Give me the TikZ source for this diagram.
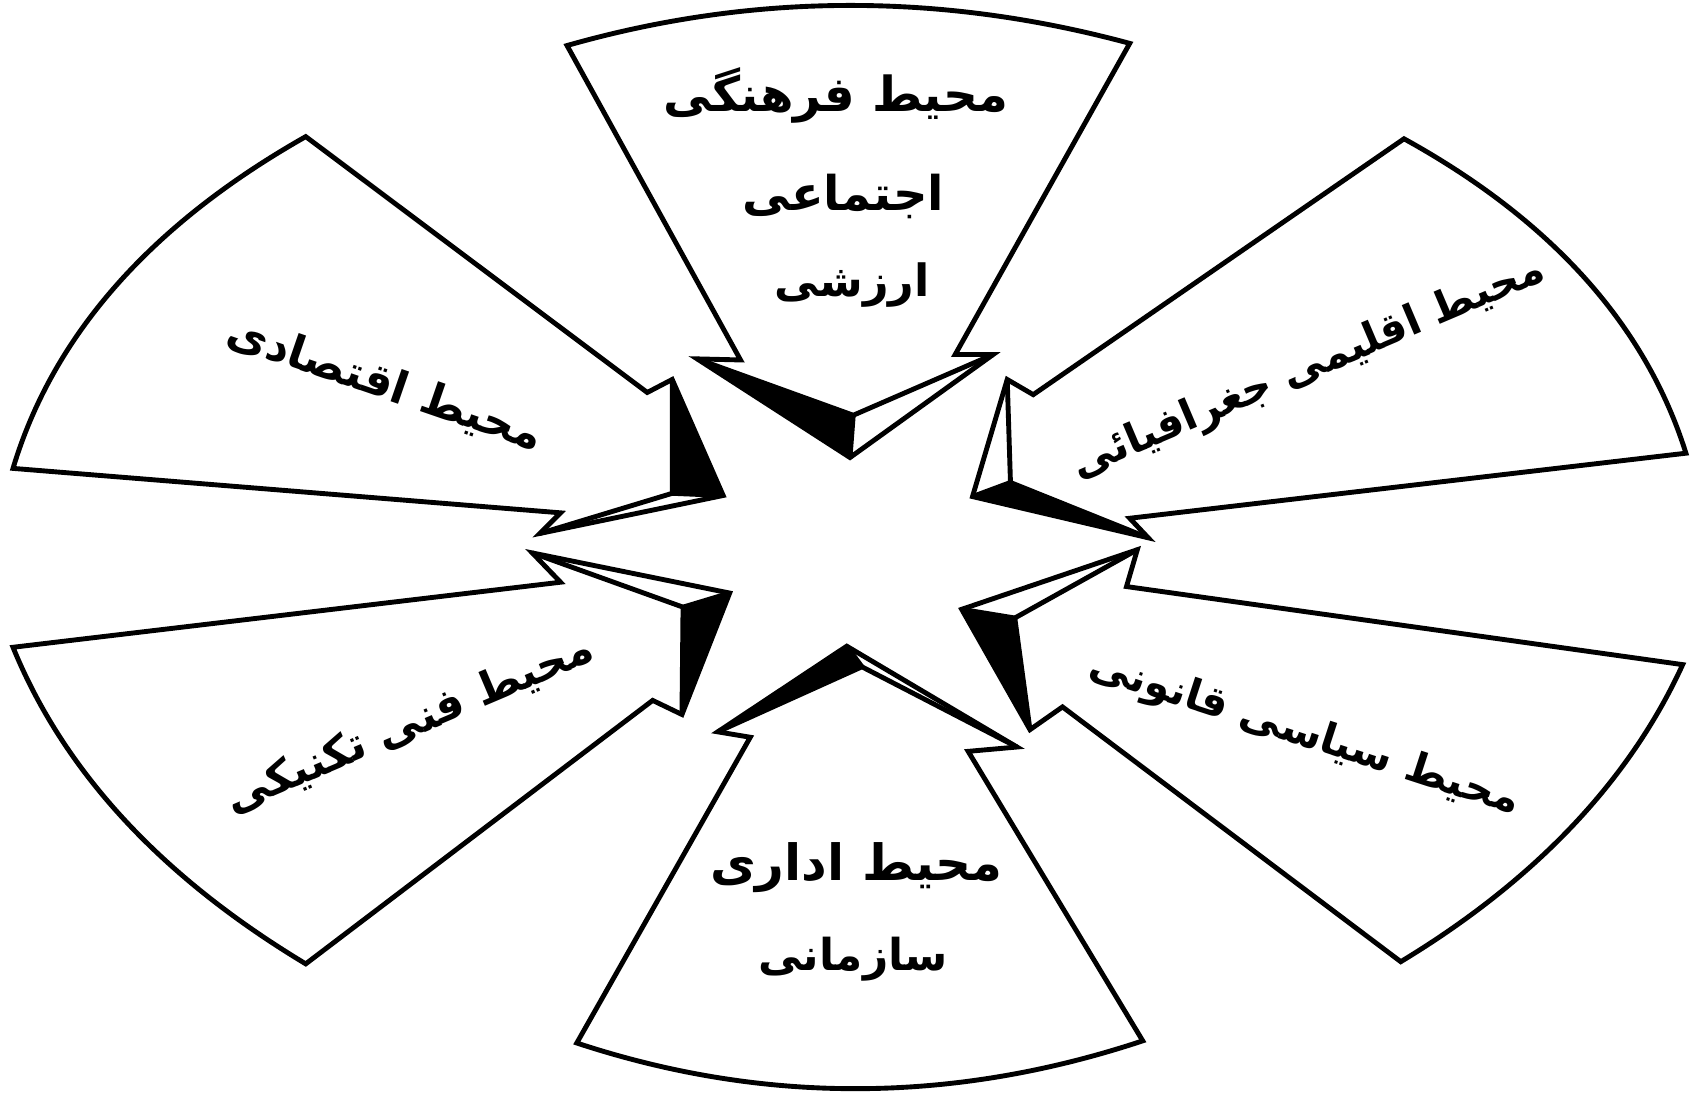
\documentclass[tikz,border=0pt]{standalone}
\usepackage{fontspec}
\newfontfamily\arabicfont[Script=Arabic]{DejaVu Sans}
\TeXXeTstate=1
\newcommand{\fitlabel}[2]{\resizebox{#1}{!}{\arabicfont\bfseries #2}}
\begin{document}
\begin{tikzpicture}[x=0.02cm,y=-0.02cm,
  outline/.style={draw=black,line width=0.09cm,line join=miter,miter limit=8},
  face/.style={fill=black},
  lbl/.style={inner sep=0pt,outer sep=0pt}]
\useasboundingbox (0,0) rectangle (1568,1009);
\fill[white] (0,0) rectangle (1568,1009);

% ---------- top arrow ----------
\coordinate (tTL) at (523,42);  \coordinate (tTR) at (1042,40);
\coordinate (tB2) at (881,327); \coordinate (tN2) at (916,327);
\coordinate (tA) at (784,422);  \coordinate (tN1) at (643,331);
\coordinate (tB1) at (683,332); \coordinate (tAp) at (787,383);
\fill[face] (tN1) -- (tA) -- (tAp) -- cycle;
\draw[outline] (tTL) .. controls (695,-7) and (868,-7) .. (tTR) -- (tB2) -- (tN2) -- (tA) -- (tN1) -- (tB1) -- cycle;
\draw[outline] (tN1) -- (tAp) -- (tN2);
\draw[outline] (tAp) -- (tA);

% ---------- upper-right arrow ----------
\coordinate (urT) at (1295,128); \coordinate (urR) at (1555,418);
\coordinate (urB2) at (1042,478); \coordinate (urN2) at (1059,496);
\coordinate (urA) at (897,458);  \coordinate (urN1) at (929,350);
\coordinate (urB1) at (953,364); \coordinate (urAp) at (932,445);
\fill[face] (urN2) -- (urA) -- (urAp) -- cycle;
\draw[outline] (urT) .. controls (1431,203) and (1518,300) .. (urR) -- (urB2) -- (urN2) -- (urA) -- (urN1) -- (urB1) -- cycle;
\draw[outline] (urN1) -- (urAp) -- (urN2);
\draw[outline] (urAp) -- (urA);

% ---------- upper-left arrow ----------
\coordinate (ulT) at (282,126);  \coordinate (ulL) at (12,432);
\coordinate (ulB2) at (517,473); \coordinate (ulN2) at (498,492);
\coordinate (ulA) at (667,457);  \coordinate (ulN1) at (620,350);
\coordinate (ulB1) at (597,362); \coordinate (ulAp) at (620,455);
\fill[face] (ulN1) -- (ulA) -- (ulAp) -- cycle;
\draw[outline] (ulT) .. controls (139,207) and (49,309) .. (ulL) -- (ulB2) -- (ulN2) -- (ulA) -- (ulN1) -- (ulB1) -- cycle;
\draw[outline] (ulN1) -- (ulAp) -- (ulN2);
\draw[outline] (ulAp) -- (ulA);

% ---------- lower-left arrow ----------
\coordinate (llL) at (12,597);   \coordinate (llB) at (282,889);
\coordinate (llB2) at (602,646); \coordinate (llN2) at (629,659);
\coordinate (llA) at (673,547);  \coordinate (llN1) at (491,510);
\coordinate (llB1) at (517,537); \coordinate (llAp) at (630,560);
\fill[face] (llN2) -- (llA) -- (llAp) -- cycle;
\draw[outline] (llL) .. controls (59,712) and (149,809) .. (llB) -- (llB2) -- (llN2) -- (llA) -- (llN1) -- (llB1) -- cycle;
\draw[outline] (llN1) -- (llAp) -- (llN2);
\draw[outline] (llAp) -- (llA);

% ---------- bottom arrow ----------
\coordinate (bBL) at (532,962);  \coordinate (bBR) at (1054,960);
\coordinate (bB2) at (893,693);  \coordinate (bN2) at (938,689);
\coordinate (bA) at (781,596);   \coordinate (bN1) at (662,675);
\coordinate (bB1) at (692,680);  \coordinate (bAp) at (795,615);
\fill[face] (bN1) -- (bA) -- (bAp) -- cycle;
\draw[outline] (bBL) .. controls (705,1019) and (879,1018) .. (bBR) -- (bB2) -- (bN2) -- (bA) -- (bN1) -- (bB1) -- cycle;
\draw[outline] (bN1) -- (bAp) -- (bN2);
\draw[outline] (bAp) -- (bA);

% ---------- lower-right arrow ----------
\coordinate (lrR) at (1552,613); \coordinate (lrB) at (1292,887);
\coordinate (lrB2) at (980,652); \coordinate (lrN2) at (950,673);
\coordinate (lrA) at (887,562);  \coordinate (lrN1) at (1049,507);
\coordinate (lrB1) at (1039,541); \coordinate (lrAp) at (936,570);
\fill[face] (lrN2) -- (lrA) -- (lrAp) -- cycle;
\draw[outline] (lrR) .. controls (1503,720) and (1416,812) .. (lrB) -- (lrB2) -- (lrN2) -- (lrA) -- (lrN1) -- (lrB1) -- cycle;
\draw[outline] (lrN1) -- (lrAp) -- (lrN2);
\draw[outline] (lrAp) -- (lrA);

% ---------- labels ----------
\node[lbl] (l1a) at (771,88)  {\fitlabel{6.36cm}{\beginR محیط فرهنگی\endR}};
\node[lbl] (l1b) at (778,181) {\fitlabel{3.72cm}{\beginR اجتماعی\endR}};
\node[lbl] (l1c) at (786,263) {\fitlabel{2.86cm}{\beginR ارزشی\endR}};
\node[lbl, rotate=-19] (l2) at (355,355) {\fitlabel{6.1cm}{\beginR محیط اقتصادی\endR}};
\node[lbl, rotate=23] (l3) at (1207,340) {\fitlabel{9.4cm}{\beginR محیط اقلیمی جغرافیائی\endR}};
\node[lbl, rotate=23] (l4) at (378,668) {\fitlabel{7.3cm}{\beginR محیط فنی تکنیکی\endR}};
\node[lbl, rotate=-18] (l5) at (1203,678) {\fitlabel{8.3cm}{\beginR محیط سیاسی قانونی\endR}};
\node[lbl] (l6a) at (790,800) {\fitlabel{5.4cm}{\beginR محیط اداری\endR}};
\node[lbl] (l6b) at (787,885) {\fitlabel{3.5cm}{\beginR سازمانی\endR}};
\end{tikzpicture}
\end{document}
